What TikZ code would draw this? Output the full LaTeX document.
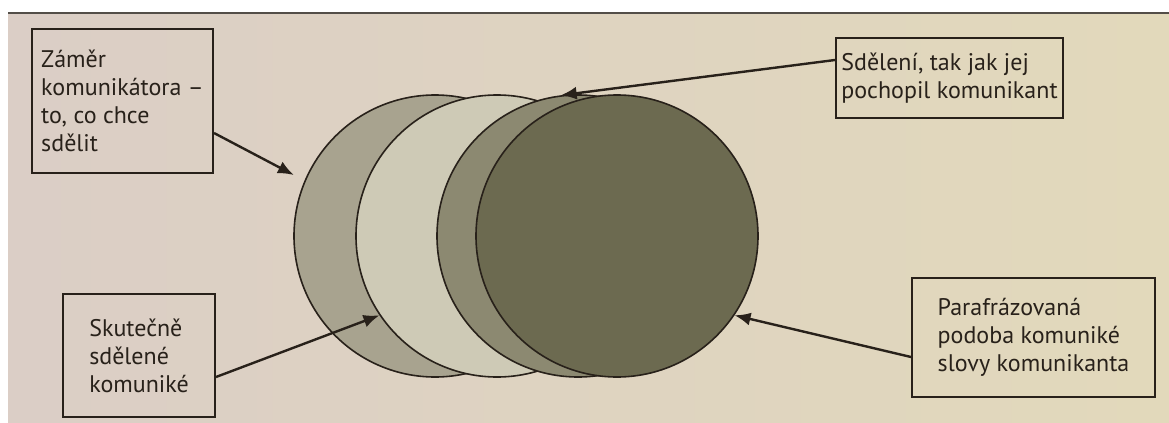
\documentclass[tikz,border=0pt]{standalone}
\usepackage{fontspec}
\setmainfont{PT Sans}
\usepackage{tikz}
\usetikzlibrary{arrows.meta,calc}
\definecolor{paperleft}{RGB}{219, 206, 198}
\definecolor{paperright}{RGB}{226, 217, 187}
\definecolor{inkline}{RGB}{40, 33, 26}
\definecolor{diskone}{RGB}{168, 163, 143}
\definecolor{disktwo}{RGB}{206, 202, 182}
\definecolor{diskthree}{RGB}{140, 137, 113}
\definecolor{diskfour}{RGB}{108, 106, 80}

\begin{document}
\begin{tikzpicture}[x=0.5pt, y=-0.5pt,
  disk/.style={draw=inkline, circle, line width=0.8pt, minimum size=141pt, inner sep=0pt},
  labelbox/.style={draw=inkline, line width=1pt, rectangle, align=left, text=inkline,
    font=\fontsize{12}{14}\selectfont, inner sep=0pt},
  pointer/.style={draw=inkline, line width=1.2pt, -{Latex[length=8pt, width=6.5pt]}}
]

% paper
\useasboundingbox (0,0) rectangle (1169,423);
\fill[white] (0,0) rectangle (1169,423);
\shade[left color=paperleft, right color=paperright] (8,13) rectangle (1169,423);
\draw[inkline!80, line width=0.8pt] (8,13) -- (1169,13);

% four overlapping disks
\node[disk, fill=diskone] (c1) at (435,236) {};
\node[disk, fill=disktwo] (c2) at (497,236) {};
\node[disk, fill=diskthree] (c3) at (578,236) {};
\node[disk, fill=diskfour] (c4) at (617,236) {};

% labels
\node[labelbox, minimum width=90.5pt, minimum height=72pt] (zamer) at (122.5,101)
  {Záměr\\komunikátora –\\to, co chce\\sdělit};
\node[labelbox, minimum width=76pt, minimum height=61.5pt] (skutecne) at (139,355.5)
  {Skutečně\\sdělené\\komuniké};
\node[labelbox, minimum width=113.5pt, minimum height=40pt] (pochopil) at (949.5,78)
  {Sdělení, tak jak jej\\pochopil komunikant};
\node[labelbox, minimum width=121.5pt, minimum height=59.5pt] (parafraze) at (1033.5,337.5)
  {Parafrázovaná\\podoba komuniké\\slovy komunikanta};

% Connections
\draw[pointer, shorten >=6pt] ($(zamer.east)+(0,32)$) -- (c1.157);
\draw[pointer] ($(skutecne.east)+(0,21.5)$) -- (c2.214);
\draw[pointer] ($(pochopil.west)+(0,-18)$) -- (c3.97);
\draw[pointer] ($(parafraze.west)+(0,19.5)$) -- (c4.-34.5);

\end{tikzpicture}
\end{document}
